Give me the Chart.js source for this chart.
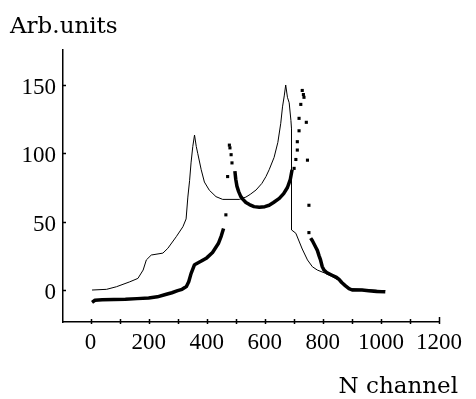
<!DOCTYPE html>
<html>
<head>
<meta charset="utf-8">
<script src="https://cdn.jsdelivr.net/npm/chart.js@4"></script>
<style>
  html, body { margin: 0; padding: 0; background: #ffffff; }
  #wrap { width: 476px; height: 399px; }
</style>
</head>
<body>
<div id="wrap"><canvas id="c" width="476" height="399"></canvas></div>
<script>
// ---- data ----
const yTitle = 'Arb.units';
const xTitle = 'N channel';

const xTickValues = [0, 200, 400, 600, 800, 1000, 1200];
const xTickMarks = [0, 100, 200, 300, 400, 500, 600, 700, 800, 900, 1000, 1100, 1200];
const yTickValues = [0, 50, 100, 150];

// thin solid curve
const lineX = [5, 55, 89, 135, 163, 181, 192, 209, 249, 266, 295, 318, 329, 335, 341, 346, 352, 358, 364, 369, 381, 392, 409, 432, 455, 512, 535, 550, 570, 590, 604, 615, 632, 645, 655, 661, 667, 672, 678, 684, 690, 692, 692, 707, 729, 747, 764, 781, 809, 830, 855, 889, 946, 1015];
const lineY = [0, 0.5, 2.4, 6, 8.5, 14.6, 22, 25.6, 27, 30.5, 39, 46.3, 52, 68, 80, 93, 105, 113.4, 105, 100, 88, 79, 73, 68.3, 66.3, 66.3, 68, 70, 73.2, 78, 83, 88, 97, 108, 122, 134, 142, 150, 141, 137, 124, 118, 44, 41.5, 30, 22, 17, 14.6, 12.2, 10, 7, 1.2, 0.3, -0.5];

// dense dotted curve (null = gap)
const thickX = [5, 15, 40, 80, 120, 160, 200, 230, 255, 280, 300, 315, 330, 338, 346, 358, 380, 400, 420, 440, 450, 458,
                 462,
                 497, 500, 504, 510, 517, 524, 535, 547, 563, 581, 600, 615, 630, 650, 665, 678, 688, 694,
                 698,
                 758, 764, 775, 781, 787, 792, 798, 804, 815, 830, 845, 855, 865, 878, 890, 901, 935, 958, 985, 1015];
const thickY = [-9, -7.5, -7.2, -7, -6.8, -6.3, -5.8, -5, -3.5, -2, -0.5, 0.5, 2.5, 6, 12, 18.5, 21, 23.5, 27.5, 34, 39.5, 45,
                 null,
                 87, 81, 76, 72, 68.5, 66.5, 64, 62.5, 61, 60.5, 61, 62, 64, 67, 70.5, 75, 81, 88,
                 null,
                 38, 36, 31.5, 29, 25, 22, 17, 14.6, 12.5, 11, 9.5, 8, 5.5, 3, 1, 0, 0, -0.5, -1, -1.2];

// isolated dots
const dotX = [466, 472, 478, 480, 484, 487, 701, 707, 712, 712, 718, 718, 724, 729, 733, 735, 743, 747, 752, 752];
const dotY = [55, 83, 106, 104, 99, 93, 89, 95.5, 102.4, 108.5, 116.5, 125.6, 135.8, 146, 143, 141, 122.7, 95, 62, 42];

// ---- build chart ----
const toPts = (xs, ys) => xs.map((x, i) => ({ x: x, y: ys[i] }));

const tickFont = { family: '"Liberation Serif", "Times New Roman", serif', size: 23, lineHeight: 1.2, weight: 'normal' };
const titleFont = { family: '"DejaVu Serif", serif', size: 23, lineHeight: 1, weight: 'normal' };

const tickMarksPlugin = {
  id: 'tickMarks',
  afterDatasetsDraw(chart) {
    const ctx = chart.ctx, xs = chart.scales.x, ys = chart.scales.y, a = chart.chartArea;
    ctx.save();
    ctx.strokeStyle = '#000';
    ctx.lineWidth = 1.5;
    ctx.beginPath();
    xTickMarks.forEach(v => {
      const px = Math.round(xs.getPixelForValue(v)) + 0.5;
      ctx.moveTo(px, a.bottom - 3);
      ctx.lineTo(px, a.bottom + 2);
    });
    const pEnd = Math.round(xs.getPixelForValue(1200)) + 0.5;
    ctx.moveTo(pEnd, a.bottom - 5);
    ctx.lineTo(pEnd, a.bottom);
    yTickValues.forEach(v => {
      const py = Math.round(ys.getPixelForValue(v)) + 0.5;
      ctx.moveTo(a.left, py);
      ctx.lineTo(a.left + 3, py);
    });
    ctx.stroke();
    ctx.restore();
  }
};

new Chart(document.getElementById('c'), {
  type: 'scatter',
  data: {
    datasets: [
      {
        label: 'thin',
        data: toPts(lineX, lineY),
        showLine: true,
        borderColor: '#000',
        borderWidth: 1,
        pointRadius: 0,
        tension: 0
      },
      {
        label: 'thick',
        data: toPts(thickX, thickY),
        showLine: true,
        spanGaps: false,
        borderColor: '#000',
        borderWidth: 3.5,
        borderJoinStyle: 'round',
        pointRadius: 0,
        tension: 0
      },
      {
        label: 'dots',
        data: toPts(dotX, dotY),
        showLine: false,
        pointStyle: 'rect',
        pointRadius: 2.2,
        pointBackgroundColor: '#000',
        pointBorderWidth: 0
      }
    ]
  },
  options: {
    responsive: false,
    animation: false,
    devicePixelRatio: 1,
    events: [],
    layout: { padding: { left: 10, right: 18, top: 0, bottom: 0 } },
    plugins: {
      legend: { display: false },
      tooltip: { enabled: false },
      title: {
        display: true,
        text: yTitle,
        align: 'start',
        color: '#000',
        font: titleFont,
        padding: { top: 15.5, bottom: 11.5 }
      },
      subtitle: {
        display: true,
        text: xTitle,
        position: 'bottom',
        align: 'end',
        color: '#000',
        font: titleFont,
        padding: { top: 0, bottom: 0 }
      }
    },
    scales: {
      x: {
        type: 'linear',
        min: -95,
        max: 1200,
        afterBuildTicks: s => { s.ticks = xTickValues.map(v => ({ value: v })); },
        afterFit: s => { s.height = 54; s.paddingRight = 37; s.paddingLeft = 0; },
        ticks: {
          callback: v => String(v),
          color: '#000',
          font: tickFont,
          padding: 7,
          maxRotation: 0,
          autoSkip: false
        },
        grid: { display: false, drawTicks: false },
        border: { display: true, color: '#000', width: 1.5 }
      },
      y: {
        type: 'linear',
        min: -23.4,
        max: 175.6,
        afterBuildTicks: s => { s.ticks = yTickValues.map(v => ({ value: v })); },
        afterFit: s => { s.width = 53; s.paddingTop = 0; s.paddingBottom = 0; },
        ticks: {
          callback: v => String(v),
          color: '#000',
          font: tickFont,
          padding: 7,
          labelOffset: 3
        },
        grid: { display: false, drawTicks: false },
        border: { display: true, color: '#000', width: 1.5 }
      }
    }
  },
  plugins: [tickMarksPlugin]
});
</script>
</body>
</html>
